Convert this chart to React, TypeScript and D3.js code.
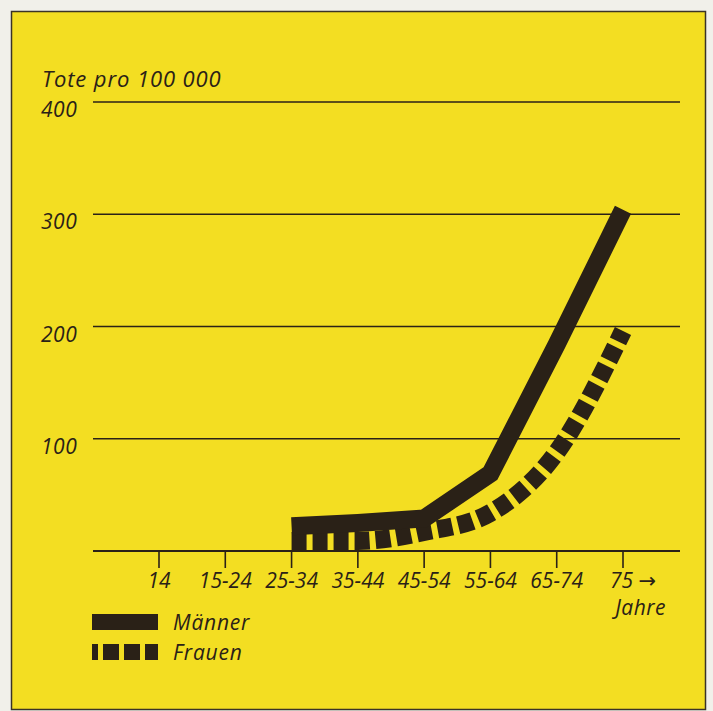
import { useRef, useEffect } from 'react';
import * as d3 from 'd3';

const ageGroups = ['14', '15-24', '25-34', '35-44', '45-54', '55-64', '65-74', '75'];
const tickLabels = ['14', '15-24', '25-34', '35-44', '45-54', '55-64', '65-74', '75 →'];
const maenner: (number | null)[] = [null, null, 22, 25, 29, 69, 184, 304];
const frauen: (number | null)[] = [null, null, 9, 9, 17, 34, 88, 196];
const yTicks = [100, 200, 300, 400];

const INK = '#2a2117';
const FONT = '"Open Sans", "DejaVu Sans", sans-serif';

export default function App() {
  const svgRef = useRef<SVGSVGElement>(null);

  useEffect(() => {
    if (!svgRef.current) return;
    const svg = d3.select(svgRef.current);
    svg.selectAll('*').remove();

    const width = 713;
    const height = 711;

    svg.append('rect').attr('width', width).attr('height', height).attr('fill', '#f1f0ea');
    svg.append('rect')
      .attr('x', 11.5).attr('y', 11.5)
      .attr('width', 694).attr('height', 698)
      .attr('fill', '#f3de22')
      .attr('stroke', '#3a3327')
      .attr('stroke-width', 1.5);

    const x = d3.scalePoint<string>().domain(ageGroups).range([159, 623]);
    const y = d3.scaleLinear().domain([0, 400]).range([551, 102]);
    const lineLeft = 93;
    const lineRight = 680;

    const txt = (sel: d3.Selection<any, any, any, any>, size: number) =>
      sel.attr('font-family', FONT).attr('font-style', 'italic')
        .attr('font-size', size).attr('fill', INK);

    // grid lines
    svg.append('g')
      .selectAll('line')
      .data(yTicks)
      .join('line')
      .attr('x1', lineLeft).attr('x2', lineRight)
      .attr('y1', (d) => y(d)).attr('y2', (d) => y(d))
      .attr('stroke', INK).attr('stroke-width', 1.4);

    txt(svg.append('g')
      .selectAll('text')
      .data(yTicks)
      .join('text')
      .attr('x', 41)
      .attr('y', (d) => y(d) + 15)
      .attr('letter-spacing', 0.5)
      .text((d) => d), 21);

    txt(svg.append('text')
      .attr('x', 42).attr('y', 87)
      .attr('letter-spacing', 0.9)
      .text('Tote pro 100 000'), 22);

    // x axis
    const xAxis = svg.append('g').attr('transform', `translate(0,${y(0)})`);
    xAxis.append('line')
      .attr('x1', lineLeft).attr('x2', lineRight)
      .attr('stroke', INK).attr('stroke-width', 2);
    xAxis.selectAll('line.tick')
      .data(ageGroups)
      .join('line')
      .attr('class', 'tick')
      .attr('x1', (d) => x(d)!).attr('x2', (d) => x(d)!)
      .attr('y1', 0).attr('y2', 17)
      .attr('stroke', INK).attr('stroke-width', 1.6);
    txt(xAxis.selectAll('text')
      .data(ageGroups)
      .join('text')
      .attr('x', (d, i) => (i === ageGroups.length - 1 ? x(d)! - 13 : x(d)!))
      .attr('y', 37)
      .attr('text-anchor', (d, i) => (i === ageGroups.length - 1 ? 'start' : 'middle'))
      .text((d, i) => tickLabels[i]), 21);

    txt(svg.append('text')
      .attr('x', 666).attr('y', 615)
      .attr('text-anchor', 'end')
      .attr('letter-spacing', 0.5)
      .text('Jahre'), 21);

    const menLine = d3.line<number | null>()
      .defined((d) => d !== null)
      .x((d, i) => x(ageGroups[i])!)
      .y((d) => y(d as number));

    const womenLine = d3.line<number | null>()
      .defined((d) => d !== null)
      .x((d, i) => x(ageGroups[i])!)
      .y((d) => y(d as number))
      .curve(d3.curveMonotoneX);

    svg.append('path')
      .datum(frauen)
      .attr('d', womenLine)
      .attr('fill', 'none')
      .attr('stroke', INK)
      .attr('stroke-width', 18)
      .attr('stroke-dasharray', '15 6');

    svg.append('path')
      .datum(maenner)
      .attr('d', menLine)
      .attr('fill', 'none')
      .attr('stroke', INK)
      .attr('stroke-width', 18)
      .attr('stroke-linejoin', 'miter');

    // legend
    const legend = svg.append('g');
    const entries = [
      { name: 'Männer', dash: null as string | null, y: 622 },
      { name: 'Frauen', dash: '16 5', y: 652 },
    ];
    entries.forEach((e) => {
      const l = legend.append('line')
        .attr('x1', 92).attr('x2', 158)
        .attr('y1', e.y).attr('y2', e.y)
        .attr('stroke', INK).attr('stroke-width', 16);
      if (e.dash) l.attr('stroke-dasharray', e.dash).attr('stroke-dashoffset', 10);
      txt(legend.append('text')
        .attr('x', 173).attr('y', e.y + 8)
        .attr('letter-spacing', 0.8)
        .text(e.name), 21);
    });
  }, []);

  return (
    <svg
      ref={svgRef}
      width={713}
      height={711}
      viewBox="0 0 713 711"
      style={{ position: 'absolute', left: 0, top: 0 }}
    />
  );
}
